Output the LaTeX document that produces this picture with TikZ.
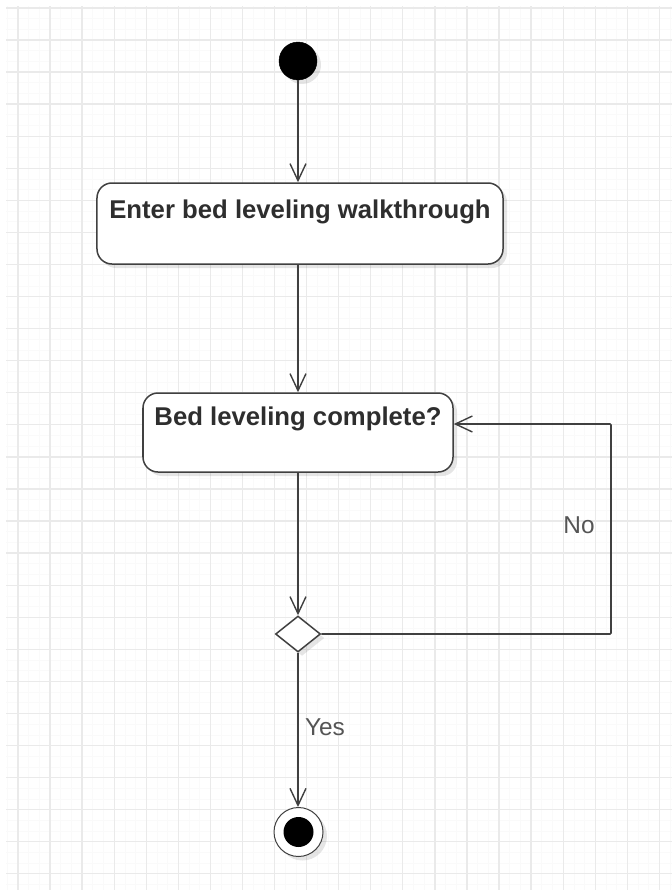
\documentclass[tikz,border=0pt]{standalone}
\usepackage{fontspec}
\setmainfont{Liberation Sans}
\usetikzlibrary{arrows.meta,shapes.geometric,shadows}

\definecolor{ink}{HTML}{404040}
\definecolor{labelgray}{HTML}{555555}
\definecolor{textdark}{HTML}{2E2E2E}
\definecolor{gridmajor}{HTML}{EAEAEA}
\definecolor{gridminor}{HTML}{FAFAFA}

\tikzset{
  x=1bp, y=-1bp,
  soft shadow/.style={drop shadow={shadow xshift=4bp, shadow yshift=-4bp, opacity=0.10, fill=black}},
  flow/.style={draw=ink, line width=1.7bp, -{Straight Barb[length=17bp,width=16bp,line width=1.4bp]}},
  actionbox/.style={draw=ink, line width=1.5bp, fill=white, rounded corners=15bp,
    inner xsep=0pt, inner ysep=0pt, text=textdark,
    font=\fontsize{25.8pt}{30pt}\selectfont\bfseries, soft shadow},
  startdot/.style={circle, fill=black, draw=black, minimum size=38bp, inner sep=0pt, soft shadow},
  choice/.style={diamond, draw=ink, line width=1.5bp, fill=white, minimum width=45bp,
    minimum height=36bp, inner sep=0pt, soft shadow},
  endring/.style={circle, draw=ink, line width=1bp, fill=white, minimum size=49bp, inner sep=0pt, soft shadow},
  enddot/.style={circle, fill=black, minimum size=30bp, inner sep=0pt},
  guard/.style={text=labelgray, font=\fontsize{24.5pt}{28pt}\selectfont, inner sep=0pt},
}

\begin{document}
\begin{tikzpicture}
  % canvas and background grid
  \useasboundingbox (0,0) rectangle (672,890);
  \fill[white] (0,0) rectangle (672,890);
  \begin{scope}
    \clip (6,6) rectangle (672,890);
    \foreach \i in {-3,...,63} {
      \draw[gridminor, line width=0.7bp] ({18+10.69*\i},0) -- ({18+10.69*\i},890);
    }
    \foreach \i in {-6,...,84} {
      \draw[gridminor, line width=0.7bp] (0,{40+10.69*\i}) -- (672,{40+10.69*\i});
    }
    \foreach \i in {-1,...,21} {
      \draw[gridmajor, line width=1.3bp] ({18+32.07*\i},0) -- ({18+32.07*\i},890);
    }
    \foreach \i in {-2,...,27} {
      \draw[gridmajor, line width=1.3bp] (0,{40+32.07*\i}) -- (672,{40+32.07*\i});
    }
  \end{scope}

  % states
  \node[startdot] (start) at (298,61) {};
  \node[actionbox, minimum width=406bp, text height=35bp, text depth=46bp]
    (enter) at (300,223.5) {Enter bed leveling walkthrough};
  \node[actionbox, minimum width=310bp, text height=32bp, text depth=47bp]
    (check) at (298,432.5) {Bed leveling complete?};
  \node[choice] (decide) at (298,634) {};
  \node[endring] (finish) at (298.5,832) {};
  \node[enddot] (finishcore) at (finish.center) {};

  % return path corner
  \coordinate (turn) at (611,424);

  % transitions
  \draw[flow] (start.south) -- (start.south |- enter.north);
  \draw[flow] (enter.south -| check.north) -- (check.north);
  \draw[flow] (check.south) -- (decide.north);
  \draw[flow] (decide.south) -- (decide.south |- finish.north);
  \draw[flow, rounded corners=1bp] (decide.east) -| (turn) -- (turn -| check.east);

  % guards
  \node[guard] (nolabel) at (579,525) {No};
  \node[guard] (yeslabel) at (325,727) {Yes};
\end{tikzpicture}
\end{document}
